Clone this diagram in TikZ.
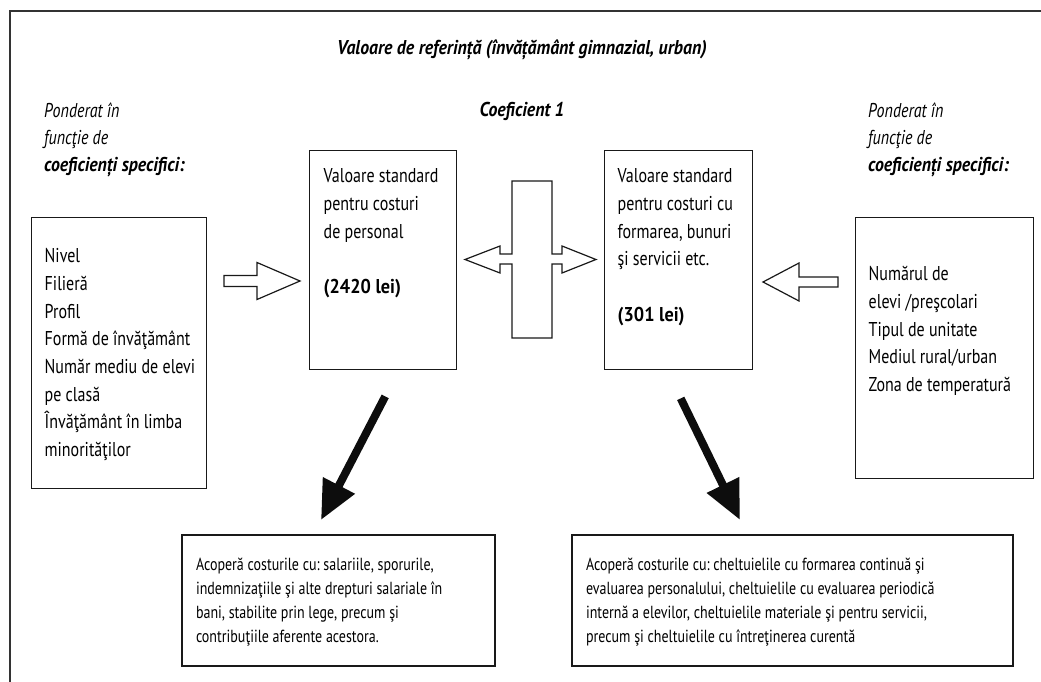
\documentclass[tikz,border=0pt]{standalone}
\usepackage{fontspec}
\setmainfont{PT Sans}[FakeStretch=0.8, BoldFeatures={FakeStretch=0.91},
 BoldItalicFeatures={FakeStretch=0.89}]
\frenchspacing
\usetikzlibrary{arrows.meta}

\begin{document}
\begin{tikzpicture}[x=1pt, y=-1pt,
 box/.style={draw=black!90, line width=1.4pt, anchor=north west, align=flush left, inner ysep=0pt,
  font=\fontsize{20}{27.7}\selectfont},
 note/.style={box, line width=2pt, font=\fontsize{17.5}{24.2}\selectfont},
 lbl/.style={anchor=base west, align=flush left, inner sep=0pt, text width=200pt,
  font=\fontsize{20}{26.8}\selectfont\itshape},
 hollow/.style={draw=black!90, line width=1.2pt, fill=white, line join=miter},
 fat/.style={line width=8pt, black!95, -{Triangle[length=39pt, width=34pt]}}]

 \useasboundingbox (0,0) rectangle (1041,682);
 % outer frame (top and left only)
 \draw[black!80, line width=1.6pt] (1041,11) -- (10,11) -- (10,682);

 % headings
 \node[anchor=base, font=\fontsize{20}{22}\selectfont\bfseries\itshape] (title) at (522,55)
  {Valoare de referință (învățământ gimnazial, urban)};
 \node[anchor=base, font=\fontsize{20}{22}\selectfont\bfseries\itshape] (coef) at (522,117)
  {Coeficient 1};
 \node[lbl] (pondL) at (44,118) {Ponderat în\\funcţie de\\\textbf{coeficienți specifici:}};
 \node[lbl] (pondR) at (868,118) {Ponderat în\\funcţie de\\\textbf{coeficienți specifici:}};

 % factor boxes
 \node[box, inner xsep=13pt, text width=149pt, text height=45pt, text depth=226pt] (factL) at (31,217)
  {Nivel\\Filieră\\Profil\\Formă de învăţământ\\\mbox{Număr mediu de elevi}\\pe clasă\\Învăţământ în limba\\minorităţilor};
 \node[box, inner xsep=13pt, text width=152pt, text height=63pt, text depth=198pt] (factR) at (855,217)
  {Numărul de\\elevi /preşcolari\\Tipul de unitate\\Mediul rural/urban\\Zona de temperatură};

 % standard values
 \node[box, inner xsep=14pt, text width=119pt, text height=32pt, text depth=187pt] (std1) at (309,150)
  {\mbox{Valoare standard}\\pentru costuri\\de personal\\[27.7pt]\textbf{(2420 lei)}};
 \node[box, inner xsep=13pt, text width=122pt, text height=32pt, text depth=187pt] (std2) at (604,150)
  {\mbox{Valoare standard}\\\mbox{pentru costuri cu}\\formarea, bunuri\\şi servicii etc.\\[27.7pt]\textbf{(301 lei)}};

 % what they cover
 \node[note, inner xsep=14pt, text width=285pt, text height=35pt, text depth=96pt] (note1) at (181,534)
  {Acoperă costurile cu: salariile, sporurile,\\\mbox{indemnizaţiile şi alte drepturi salariale în}\\bani, stabilite prin lege, precum şi\\contribuţiile aferente acestora.};
 \node[note, inner xsep=14pt, text width=413pt, text height=35pt, text depth=96pt] (note2) at (571,534)
  {Acoperă costurile cu: cheltuielile cu formarea continuă şi\\\mbox{evaluarea personalului, cheltuielile cu evaluarea periodică}\\internă a elevilor, cheltuielile materiale şi pentru servicii,\\precum şi cheltuielile cu întreţinerea curentă};

 % hollow arrows
 \draw[hollow] (224,275.5) -- (257,275.5) -- (257,262.5) -- (300,281) -- (257,299.5)
  -- (257,286.5) -- (224,286.5) -- cycle;
 \draw[hollow] (838,277) -- (799,277) -- (799,263) -- (763,282) -- (799,301)
  -- (799,287) -- (838,287) -- cycle;
 % cross between the two values
 \draw[hollow] (512,181) -- (552,181) -- (552,254) -- (562,254) -- (562,246) -- (596,259.5)
  -- (562,273) -- (562,264) -- (552,264) -- (552,338) -- (512,338) -- (512,264)
  -- (500,264) -- (500,273) -- (465,259.5) -- (500,246) -- (500,254) -- (512,254) -- cycle;

 % black arrows down
 \draw[fat] ([xshift=2pt, yshift=-26pt]std1.south) -- ([xshift=140pt, yshift=14pt]note1.north west);
 \draw[fat] ([xshift=2pt, yshift=-28pt]std2.south) -- ([xshift=169pt, yshift=14pt]note2.north west);
\end{tikzpicture}
\end{document}
